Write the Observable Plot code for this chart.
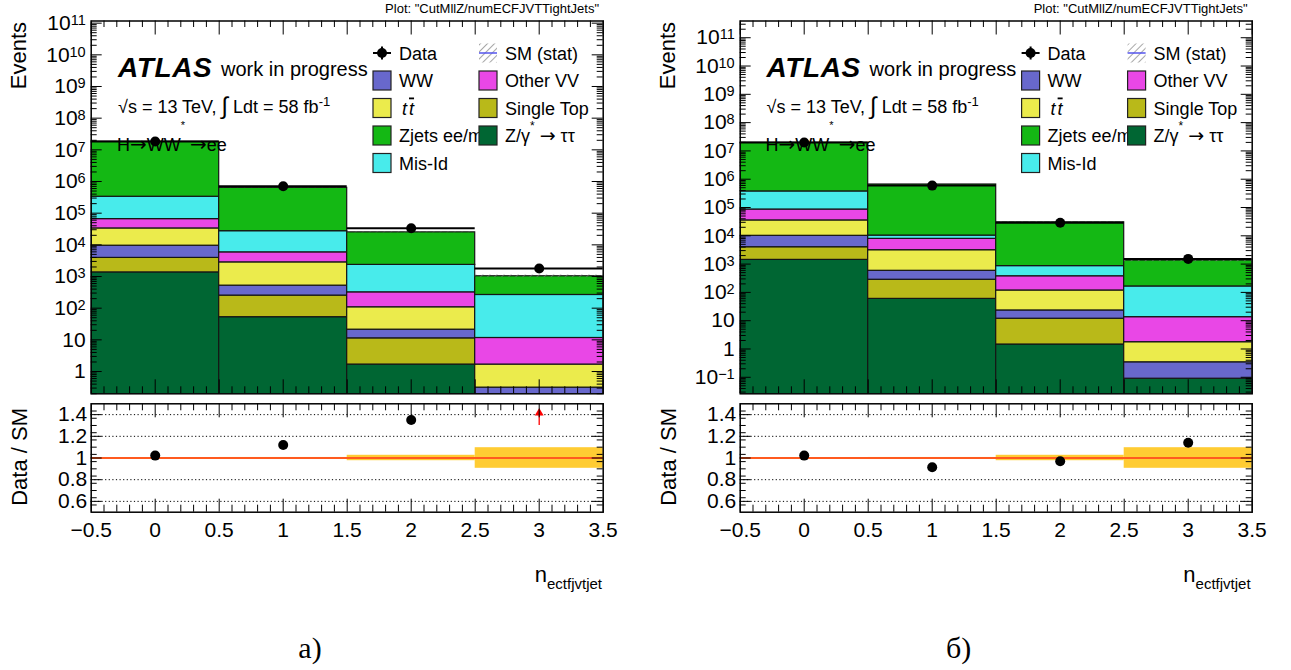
<!DOCTYPE html>
<html><head><meta charset="utf-8">
<script src="https://cdn.jsdelivr.net/npm/d3@7"></script>
<script src="https://cdn.jsdelivr.net/npm/@observablehq/plot@0.6"></script>
<style>
html,body{margin:0;padding:0;background:#fff;}
#root{position:relative;width:1291px;height:670px;overflow:hidden;}
#root svg{position:absolute;}
</style></head><body><div id="root"></div>
<script>
// ---------------- data ----------------
const binCenters = [0, 1, 2, 3];
const binEdges = [-0.5, 0.5, 1.5, 2.5, 3.5];
// stack order bottom -> top
const processKeys = ["ztautau", "singletop", "ww", "ttbar", "othervv", "misid", "zjets"];

// panel а)
const a_ztautau   = [1350, 52, 1.66, 0.09];
const a_singletop = [2520, 198, 9.5, 0];
const a_ww        = [5530, 265, 9.8, 0.22];
const a_ttbar     = [23600, 2285, 86, 1.35];
const a_othervv   = [32000, 3000, 210, 9.8];
const a_misid     = [265000, 21200, 2010, 250];
const a_zjets     = [17670000, 603000, 22470, 757];
const a_data      = [18400000, 706000, 33500, 1800];
const a_mcStatRel = [0.004, 0.005, 0.025, 0.095];
const a_yDomain   = [0.198, 1.17e11];

// panel б)
const b_ztautau   = [1410, 59, 1.44, 0.089];
const b_singletop = [2540, 221, 10.3, 0];
const b_ww        = [6050, 300, 11.3, 0.25];
const b_ttbar     = [25000, 2520, 94, 1.4];
const b_othervv   = [50000, 4700, 255, 11.6];
const b_misid     = [285000, 2400, 478, 149];
const b_zjets     = [19000000, 640000, 29150, 1178];
const b_data      = [19800000, 595000, 29100, 1530];
const b_mcStatRel = [0.004, 0.005, 0.025, 0.095];
const b_yDomain   = [0.0261, 3.9e11];

const xTicksMajor = [-0.5, 0, 0.5, 1, 1.5, 2, 2.5, 3, 3.5];
const xTickLabels = ["\u22120.5", "0", "0.5", "1", "1.5", "2", "2.5", "3", "3.5"];
const ratioDomain = [0.5, 1.5];
const ratioTicks = [0.6, 0.8, 1, 1.2, 1.4];
const ratioTickLabels = ["0.6", "0.8", "1", "1.2", "1.4"];
const ratioGrid = [0.6, 0.8, 1.2, 1.4];

// "Zjets ee/m" : the rest of the label is hidden under the neighbouring legend box in the original
const legendCol1 = ["Data", "WW", "tt", "Zjets ee/m", "Mis-Id"];
const legendCol2 = ["SM (stat)", "Other VV", "Single Top", "Z/\u03b3* \u2192 \u03c4\u03c4"];
const plotTitle = 'Plot: "CutMllZ/numECFJVTTightJets"';
const captions = ["а)", "б)"];

// ---------------- styles ----------------
const colors = {ztautau:"#006633", singletop:"#b9b919", ww:"#6868cc", ttbar:"#ebeb4c",
                othervv:"#e947e6", misid:"#48ebeb", zjets:"#14b814"};
const FONT = "'Liberation Sans', Arial, Helvetica, sans-serif";
const SERIF = "'Liberation Serif', 'Times New Roman', serif";
const root = document.getElementById("root");

const panels = [
  {ox: 0, yDomain: a_yDomain, data: a_data, stat: a_mcStatRel,
   series: {ztautau:a_ztautau, singletop:a_singletop, ww:a_ww, ttbar:a_ttbar, othervv:a_othervv, misid:a_misid, zjets:a_zjets}},
  {ox: 648.6, yDomain: b_yDomain, data: b_data, stat: b_mcStatRel,
   series: {ztautau:b_ztautau, singletop:b_singletop, ww:b_ww, ttbar:b_ttbar, othervv:b_othervv, misid:b_misid, zjets:b_zjets}}
];

const W = 650, FX0 = 90.7, FX1 = 602.7;
const xMinor = d3.range(-5, 36).map(i => i / 10).filter(v => Math.abs(v * 2 - Math.round(v * 2)) > 1e-6);

function frameTicks(fw, fh, xMaj, xMin, yMaj, yMin, L) {
  const s = {stroke: "#000", strokeWidth: 1};
  return [
    Plot.tickX(xMaj, {x: d => d, insetTop: fh - L.xMajB, ...s}),
    Plot.tickX(xMin, {x: d => d, insetTop: fh - L.xMinB, ...s}),
    Plot.tickX(xMaj, {x: d => d, insetBottom: fh - L.xMajT, ...s}),
    Plot.tickX(xMin, {x: d => d, insetBottom: fh - L.xMinT, ...s}),
    Plot.tickY(yMaj, {y: d => d, insetRight: fw - L.yMaj, ...s}),
    Plot.tickY(yMin, {y: d => d, insetRight: fw - L.yMin, ...s}),
    Plot.tickY(yMaj, {y: d => d, insetLeft: fw - L.yMaj, ...s}),
    Plot.tickY(yMin, {y: d => d, insetLeft: fw - L.yMin, ...s})
  ];
}

function powFmt(d) {
  const k = Math.round(Math.log10(d));
  if (k === 0) return "1";
  if (k === 1) return "10";
  return "10^" + (k < 0 ? "\u2212" + (-k) : k);
}

function mainPlot(P) {
  const H = 400, mT = 20.5, mB = H - 393.3;
  const fw = FX1 - FX0, fh = H - mT - mB;
  const marks = [];
  const cum = binCenters.map(() => 0);
  processKeys.forEach(k => {
    const vals = P.series[k];
    const rows = [];
    binCenters.forEach((c, i) => {
      const lo = cum[i], hi = cum[i] + vals[i];
      cum[i] = hi;
      if (vals[i] > 0) rows.push({x1: binEdges[i], x2: binEdges[i + 1], y1: Math.max(lo, 1e-6), y2: hi});
    });
    marks.push(Plot.rect(rows, {x1: "x1", x2: "x2", y1: "y1", y2: "y2", fill: colors[k],
      stroke: "#151515", strokeWidth: 1.2, clip: true}));
  });
  P.totals = cum.slice();
  const statRows = binCenters.map((c, i) => ({x1: binEdges[i], x2: binEdges[i + 1],
    y1: cum[i] * (1 - P.stat[i]), y2: cum[i] * (1 + P.stat[i])}));
  marks.push(Plot.rect(statRows, {x1: "x1", x2: "x2", y1: "y1", y2: "y2", fill: "url(#hatch)", clip: true}));
  const dataRows = binCenters.map((c, i) => ({x: c, x1: binEdges[i], x2: binEdges[i + 1], v: P.data[i]}));
  marks.push(Plot.ruleY(dataRows, {y: "v", x1: "x1", x2: "x2", stroke: "#000", strokeWidth: 2}));
  marks.push(Plot.dot(dataRows, {x: "x", y: "v", r: 5, fill: "#000"}));

  const kmin = Math.ceil(Math.log10(P.yDomain[0])), kmax = Math.floor(Math.log10(P.yDomain[1]));
  const yMaj = d3.range(kmin, kmax + 1).map(k => Math.pow(10, k));
  const yMin = [];
  for (let k = kmin - 1; k <= kmax; k++) for (let m = 2; m <= 9; m++) {
    const v = m * Math.pow(10, k);
    if (v > P.yDomain[0] && v < P.yDomain[1]) yMin.push(v);
  }
  marks.push(...frameTicks(fw, fh, xTicksMajor, xMinor, yMaj, yMin,
    {xMajB: 14, xMinB: 7, xMajT: 14, xMinT: 6.5, yMaj: 11, yMin: 6}));
  marks.push(Plot.axisY({ticks: yMaj, tickFormat: powFmt, tickSize: 0, tickPadding: 5.5,
    fontSize: 21, label: null}));
  marks.push(Plot.frame({stroke: "#000", strokeWidth: 1.5}));

  const svg = Plot.plot({
    width: W, height: H, marginLeft: FX0, marginRight: W - FX1, marginTop: mT, marginBottom: mB,
    x: {domain: [-0.5, 3.5], axis: null},
    y: {type: "log", domain: P.yDomain, label: null},
    style: {fontFamily: FONT, background: "transparent", overflow: "visible", color: "#000"},
    marks
  });
  const ns = "http://www.w3.org/2000/svg";
  svg.querySelectorAll('g[aria-label="y-axis tick label"] text').forEach(t => {
    const m = t.textContent.match(/^10\^(.+)$/);
    if (m) {
      t.textContent = "10";
      const ts = document.createElementNS(ns, "tspan");
      ts.setAttribute("dy", "-5");
      ts.setAttribute("font-size", "14.5");
      ts.textContent = m[1];
      t.appendChild(ts);
    }
  });
  svg.style.left = P.ox + "px";
  svg.style.top = "0px";
  root.appendChild(svg);
}

function ratioPlot(P) {
  const top = 395, H = 215;
  const mT = 403.3 - top, mB = H - (511.7 - top);
  const fw = FX1 - FX0, fh = H - mT - mB;
  const rows = binCenters.map((c, i) => ({x: c, x1: binEdges[i], x2: binEdges[i + 1],
    r: P.data[i] / P.totals[i], e: P.stat[i]}));
  const inRange = rows.filter(d => d.r >= ratioDomain[0] && d.r <= ratioDomain[1]);
  const over = rows.filter(d => d.r > ratioDomain[1]);
  const yMaj = ratioTicks;
  const yMin = [];
  for (let v = ratioDomain[0]; v <= ratioDomain[1] + 1e-9; v += 0.2 / 3) {
    const vv = Math.round(v * 1e6) / 1e6;
    if (!yMaj.some(t => Math.abs(t - vv) < 1e-4) && vv > ratioDomain[0] && vv < ratioDomain[1]) yMin.push(vv);
  }
  const marks = [
    Plot.ruleY(ratioGrid, {y: d => d, stroke: "#000", strokeWidth: 1, strokeDasharray: "1.2,2.4"}),
    Plot.rect(rows, {x1: "x1", x2: "x2", y1: d => 1 - d.e, y2: d => 1 + d.e, fill: "#ffcc33"}),
    Plot.ruleY([1], {y: d => d, stroke: "#ff5a1f", strokeWidth: 2}),
    Plot.dot(inRange, {x: "x", y: "r", r: 5, fill: "#000"}),
    Plot.ruleX(over, {x: "x", y1: ratioDomain[1] - 0.2, y2: ratioDomain[1] - 0.09, stroke: "#f00", strokeWidth: 1.3}),
    Plot.dot(over, {x: "x", y: ratioDomain[1] - 0.085, symbol: "triangle", r: 3.3, fill: "#f00"}),
    ...frameTicks(fw, fh, xTicksMajor, xMinor, yMaj, yMin,
      {xMajB: 13, xMinB: 7, xMajT: 14, xMinT: 7, yMaj: 11, yMin: 6}),
    Plot.axisY({ticks: ratioTicks, tickFormat: d => ratioTickLabels[ratioTicks.indexOf(d)],
      tickSize: 0, tickPadding: 4, fontSize: 21, label: null}),
    Plot.axisX({ticks: xTicksMajor, tickFormat: d => xTickLabels[xTicksMajor.indexOf(d)],
      tickSize: 0, tickPadding: 10, fontSize: 21, label: null}),
    Plot.frame({stroke: "#000", strokeWidth: 1.5})
  ];
  const svg = Plot.plot({
    width: W, height: H, marginLeft: FX0, marginRight: W - FX1, marginTop: mT, marginBottom: mB,
    x: {domain: [-0.5, 3.5], label: null},
    y: {domain: ratioDomain, label: null},
    style: {fontFamily: FONT, background: "transparent", overflow: "visible", color: "#000"},
    marks
  });
  svg.style.left = P.ox + "px";
  svg.style.top = top + "px";
  root.appendChild(svg);
}

panels.forEach(P => { mainPlot(P); ratioPlot(P); });

// ---------------- overlay: texts and legend ----------------
const ov = d3.select(root).append("svg").attr("width", 1291).attr("height", 670)
  .style("left", "0px").style("top", "0px").style("pointer-events", "none")
  .attr("font-family", FONT).attr("fill", "#000");
const defs = ov.append("defs");
const pat = defs.append("pattern").attr("id", "hatch").attr("patternUnits", "userSpaceOnUse")
  .attr("width", 5).attr("height", 5).attr("patternTransform", "rotate(45)");
pat.append("line").attr("x1", 0).attr("y1", 0).attr("x2", 0).attr("y2", 5)
  .attr("stroke", "#777").attr("stroke-width", 1.3);

const rowsY = [53, 80.5, 108, 135.5, 163];
panels.forEach((P, pi) => {
  const g = ov.append("g").attr("transform", `translate(${P.ox},0)`);
  g.append("text").attr("x", 599).attr("y", 13).attr("text-anchor", "end").attr("font-size", 13).text(plotTitle);
  g.append("text").attr("transform", "translate(26,22) rotate(-90)").attr("text-anchor", "end")
    .attr("font-size", 22).text("Events");
  g.append("text").attr("transform", "translate(27,408) rotate(-90)").attr("text-anchor", "end")
    .attr("font-size", 22).text("Data / SM");
  g.append("text").attr("x", 118).attr("y", 76.5).attr("font-size", 28).attr("font-weight", "bold")
    .attr("font-style", "italic").attr("letter-spacing", 0.6).text("ATLAS");
  g.append("text").attr("x", 221).attr("y", 76).attr("font-size", 20).text("work in progress");
  const s = g.append("text").attr("x", 118).attr("y", 113).attr("font-size", 18);
  s.append("tspan").text("\u221as = 13 TeV, ");
  s.append("tspan").attr("font-size", 24).attr("dy", 1).text("\u222b");
  s.append("tspan").attr("dy", -1).text(" Ldt = 58 fb");
  s.append("tspan").attr("font-size", 13).attr("dy", -7).text("-1");
  const h = g.append("text").attr("x", 117).attr("y", 151).attr("font-size", 18);
  h.append("tspan").text("H");
  h.append("tspan").attr("font-family", "'DejaVu Sans', sans-serif").attr("font-size", 20).text("\u2192");
  h.append("tspan").text("WW");
  h.append("tspan").attr("font-size", 11).attr("dy", -22).text("*");
  h.append("tspan").attr("dy", 22).text(" ");
  h.append("tspan").attr("font-family", "'DejaVu Sans', sans-serif").attr("font-size", 20).text("\u2192");
  h.append("tspan").text("ee");

  // legend labels
  const lx1 = 399, bx1 = 373, lx2 = 505, bx2 = 479;
  legendCol1.forEach((lab, i) => {
    const y = rowsY[i] + 6.5;
    if (lab === "tt") {
      const t = g.append("text").attr("x", lx1 + 3).attr("y", y).attr("font-size", 18).attr("font-style", "italic");
      t.append("tspan").text("t");
      t.append("tspan").attr("dx", 2).style("text-decoration", "overline").text("t");
    } else {
      g.append("text").attr("x", lx1).attr("y", y).attr("font-size", 18).text(lab);
    }
  });
  legendCol2.forEach((lab, i) => {
    const y = rowsY[i] + 6.5;
    const t = g.append("text").attr("x", lx2).attr("y", y).attr("font-size", 18);
    if (lab.includes("*")) {
      const [pre, post] = lab.split("*");
      t.append("tspan").text(pre);
      t.append("tspan").attr("font-size", 12).attr("dy", -12).text("*");
      t.append("tspan").attr("dy", 12).text(" ");
      t.append("tspan").attr("font-family", "'DejaVu Sans', sans-serif").attr("font-size", 19).text("\u2192");
      t.append("tspan").text(post.replace(" \u2192", ""));
    } else t.text(lab);
  });
  // legend symbols
  g.append("line").attr("x1", bx1).attr("x2", bx1 + 18).attr("y1", rowsY[0]).attr("y2", rowsY[0]).attr("stroke", "#000").attr("stroke-width", 2);
  g.append("line").attr("x1", bx1 + 9).attr("x2", bx1 + 9).attr("y1", rowsY[0] - 6.5).attr("y2", rowsY[0] + 6.5).attr("stroke", "#000").attr("stroke-width", 2);
  g.append("circle").attr("cx", bx1 + 9).attr("cy", rowsY[0]).attr("r", 5).attr("fill", "#000");
  g.append("rect").attr("x", bx2).attr("y", rowsY[0] - 9.5).attr("width", 18).attr("height", 19).attr("fill", "url(#hatch)");
  g.append("line").attr("x1", bx2).attr("x2", bx2 + 18).attr("y1", rowsY[0]).attr("y2", rowsY[0]).attr("stroke", "#5555ee").attr("stroke-width", 1.5);
  const c1 = [null, "ww", "ttbar", "zjets", "misid"], c2 = [null, "othervv", "singletop", "ztautau"];
  c1.forEach((k, i) => { if (k) g.append("rect").attr("x", bx1).attr("y", rowsY[i] - 9.5).attr("width", 18).attr("height", 19)
    .attr("fill", colors[k]).attr("stroke", "#222").attr("stroke-width", 1.2); });
  c2.forEach((k, i) => { if (k) g.append("rect").attr("x", bx2).attr("y", rowsY[i] - 9.5).attr("width", 18).attr("height", 19)
    .attr("fill", colors[k]).attr("stroke", "#222").attr("stroke-width", 1.2); });

  // x-axis title
  const xt = g.append("text").attr("x", 602).attr("y", 582).attr("text-anchor", "end").attr("font-size", 22);
  xt.append("tspan").text("n");
  xt.append("tspan").attr("font-size", 15).attr("dy", 7).text("ectfjvtjet");
  // caption
  g.append("text").attr("x", 310).attr("y", 658).attr("text-anchor", "middle").attr("font-family", SERIF)
    .attr("font-size", 30).text(captions[pi]);
});
</script>
</body></html>
